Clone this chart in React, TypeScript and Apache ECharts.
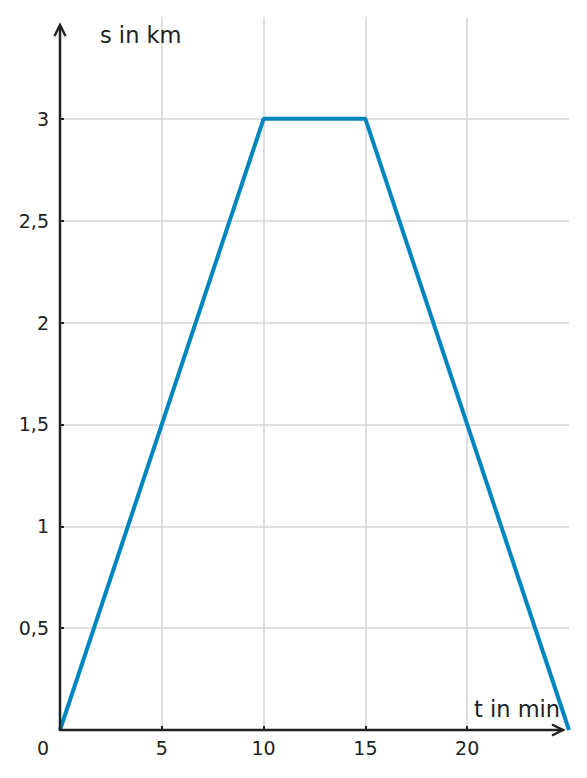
import React, { useEffect, useRef } from "react";
import * as echarts from "echarts";

const timeMin = [0, 10, 15, 25];
const distanceKm = [0, 3, 3, 0];
const xTicks = [5, 10, 15, 20];
const yTicks = [0.5, 1, 1.5, 2, 2.5, 3];
const yTickLabels = ["0,5", "1", "1,5", "2", "2,5", "3"];
const xTitle = "t in min";
const yTitle = "s in km";

const FONT = "DejaVu Sans";
const TEXT = "#222";

export default function App() {
  const ref = useRef<HTMLDivElement>(null);
  useEffect(() => {
    if (!ref.current) return;
    const chart = echarts.init(ref.current, null, { renderer: "svg" });
    const data = timeMin.map((t, i) => [t, distanceKm[i]]);
    const xInner = (_i: number, v: any) => Number(v) !== 0 && Number(v) !== 25;
    const yInner = (_i: number, v: any) => Number(v) !== 0 && Number(v) < 3.5;
    chart.setOption({
      animation: false,
      grid: { left: 60, right: 18, top: 17, bottom: 48, containLabel: false },
      xAxis: {
        type: "value",
        min: 0,
        max: 25,
        interval: 5,
        axisLine: { show: false },
        axisTick: { show: true, inside: true, length: 4, customValues: xTicks, lineStyle: { color: TEXT, width: 2 } },
        axisLabel: {
          margin: 8,
          fontFamily: FONT,
          fontSize: 19,
          color: TEXT,
          customValues: xTicks,
          formatter: (v: number) => String(v),
        },
        splitLine: {
          show: true,
          interval: xInner,
          lineStyle: { color: "#d4d4d4", width: 1.5 },
        },
      },
      yAxis: {
        type: "value",
        min: 0,
        max: 3.5,
        interval: 0.5,
        axisLine: { show: false },
        axisTick: { show: true, inside: true, length: 4, customValues: yTicks, lineStyle: { color: TEXT, width: 2 } },
        axisLabel: {
          margin: 11,
          fontFamily: FONT,
          fontSize: 19,
          color: TEXT,
          customValues: yTicks,
          formatter: (v: number) => {
            const i = yTicks.indexOf(Number(v));
            return i >= 0 ? yTickLabels[i] : "";
          },
        },
        splitLine: {
          show: true,
          interval: yInner,
          lineStyle: { color: "#d4d4d4", width: 1.5 },
        },
      },
      series: [
        {
          type: "line",
          data,
          symbol: "none",
          lineStyle: { color: "#0086be", width: 4 },
          z: 5,
        },
      ],
      graphic: [
        { type: "line", shape: { x1: 60, y1: 731, x2: 60, y2: 25 }, style: { stroke: TEXT, lineWidth: 2.5 }, z: 10 },
        { type: "line", shape: { x1: 59, y1: 730, x2: 563, y2: 730 }, style: { stroke: TEXT, lineWidth: 2.5 }, z: 10 },
        { type: "polyline", shape: { points: [[54.5, 36], [60, 25], [65.5, 36]] }, style: { stroke: TEXT, lineWidth: 2.5, fill: "none" }, z: 10 },
        { type: "polyline", shape: { points: [[552, 724.5], [563, 730], [552, 735.5]] }, style: { stroke: TEXT, lineWidth: 2.5, fill: "none" }, z: 10 },
        { type: "text", x: 43, y: 748, style: { text: "0", fontFamily: FONT, fontSize: 19, fill: TEXT, align: "center", verticalAlign: "middle" }, z: 10 },
        { type: "text", x: 100, y: 35, style: { text: yTitle, fontFamily: FONT, fontSize: 22.5, fill: TEXT, align: "left", verticalAlign: "middle" }, z: 10 },
        { type: "text", x: 474, y: 709, style: { text: xTitle, fontFamily: FONT, fontSize: 22.5, fill: TEXT, align: "left", verticalAlign: "middle" }, z: 10 },
      ],
    });
    return () => chart.dispose();
  }, []);
  return <div ref={ref} style={{ width: 587, height: 778, position: "absolute", left: 0, top: 0 }} />;
}
